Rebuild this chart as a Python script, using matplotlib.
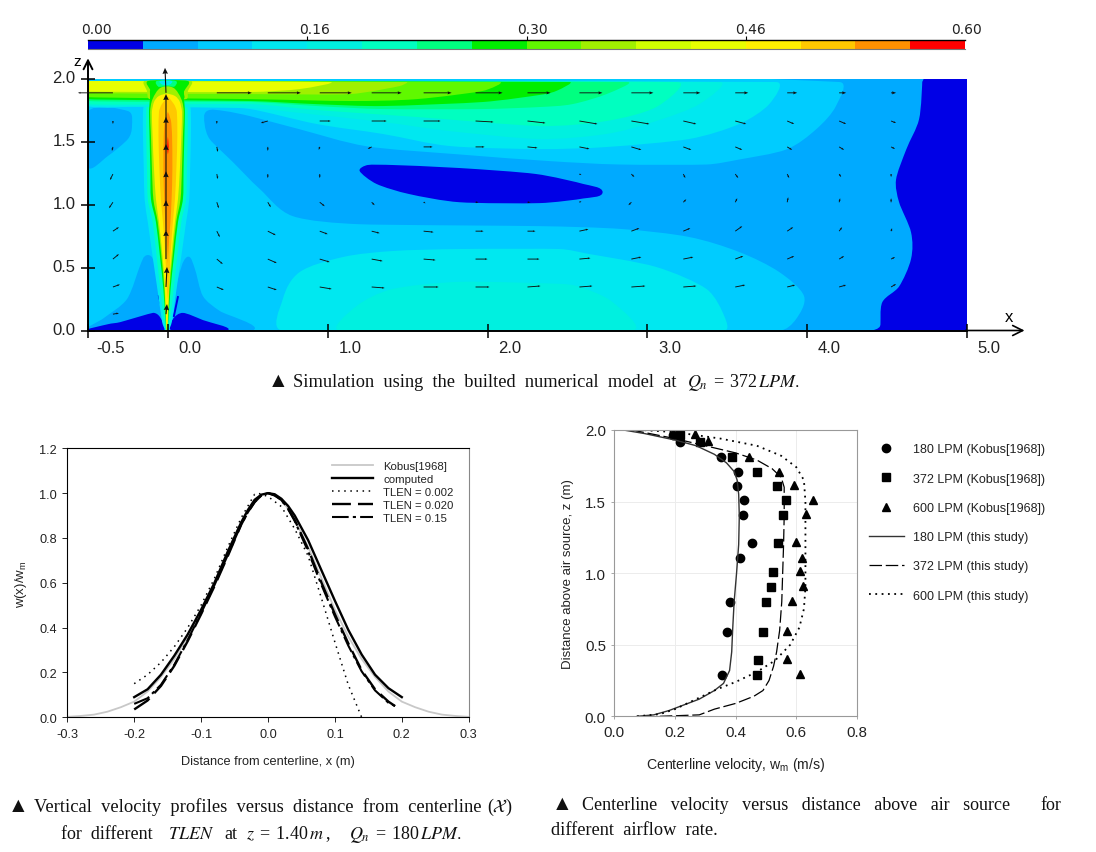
import numpy as np
import matplotlib
matplotlib.use("Agg")
import matplotlib.pyplot as plt
from matplotlib.colors import ListedColormap
from matplotlib.path import Path
from matplotlib.patches import PathPatch
from matplotlib.transforms import ScaledTranslation

W, H = 1096, 853
plt.rcParams.update({
    "font.family": ["Liberation Sans", "DejaVu Sans"],
    "mathtext.fontset": "stix",
    "mathtext.default": "regular",
})

# ---------------- top panel: speed levels ----------------
LEVEL_COLORS = ["#0000E6", "#00AAFF", "#00CCFF", "#00E8F0", "#00F0E0", "#00FFC0", "#00FF80", "#00EE00",
                "#60F800", "#A0F000", "#D0FF00", "#E8FF00", "#FFF000", "#FFC800", "#FF9000", "#FF0000"]
LEVEL_EDGES = [i * 0.0375 for i in range(17)]
CB_TICKS = [0.15, 0.30, 0.45]
CB_LABELS = ["0.00", "0.16", "0.30", "0.46", "0.60"]
CB_LABEL_POS = [0.006, 0.155, 0.304, 0.453, 0.6013]

# contour outlines (x, z in metres)
C1_OUT_X = [-0.5, 4.725, 4.72, 4.70, 4.62, 4.556, 4.575, 4.65, 4.65, 4.575, 4.47, 4.456, 4.39, -0.5]
C1_OUT_Z = [2, 2, 1.976, 1.68, 1.44, 1.20, 1.02, 0.78, 0.57, 0.35, 0.225, 0.035, 0, 0]
C2_X = [-0.5, 4.2, 4.18, 4.056, 3.87, 3.575, 3.37, 2.825, 2.39, 1.825, 1.244, 0.825, 0.5125, 0.356, 0.244, 0.23,
        0.2625, 0.406, 0.575, 0.78, 1.2, 2.325, 2.84, 3.26, 3.575, 3.825, 3.98, 3.93, 3.825, -0.5]
C2_Z = [1.984, 1.976, 1.785, 1.60, 1.44, 1.36, 1.32, 1.32, 1.347, 1.40, 1.465, 1.60, 1.705, 1.745, 1.745, 1.64,
        1.52, 1.34, 1.125, 0.91, 0.845, 0.83, 0.807, 0.744, 0.624, 0.465, 0.274, 0.09, 0, 0]
LOBE_X = [-0.5, -0.25, -0.225, -0.25, -0.375, -0.5]
LOBE_Z = [1.74, 1.745, 1.626, 1.523, 1.388, 1.30]
HUMP_L_X = [-0.5, -0.4, -0.256, -0.175, -0.125, -0.08, -0.0625, -0.0375, -0.019]
HUMP_L_Z = [0, 0.10, 0.25, 0.513, 0.60, 0.513, 0.33, 0.147, 0]
HUMP_R_X = [0.025, 0.031, 0.044, 0.0625, 0.119, 0.169, 0.219, 0.325, 0.53]
HUMP_R_Z = [0, 0.066, 0.25, 0.41, 0.584, 0.489, 0.274, 0.155, 0]
LOW_L_X = [-0.5, -0.375, -0.3, -0.094, -0.05, -0.031]
LOW_L_Z = [0, 0.05, 0.066, 0.14, 0.107, 0]
LOW_R_X = [0.025, 0.031, 0.094, 0.219, 0.37]
LOW_R_Z = [0, 0.09, 0.14, 0.083, 0]
STREAK_L_X, STREAK_L_Z = [-0.056, -0.025], [0.274, 0.115]
STREAK_R_X, STREAK_R_Z = [0.0625, 0.0375], [0.266, 0.115]
EYE_X = [1.2, 1.25, 1.406, 1.825, 2.3, 2.6, 2.72, 2.6, 2.325, 1.825, 1.51, 1.306]
EYE_Z = [1.268, 1.316, 1.316, 1.292, 1.245, 1.165, 1.10, 1.05, 1.013, 1.02, 1.085, 1.165]
LOW3_X = [0.719, 0.719, 0.825, 1.094, 1.406, 1.825, 2.45, 2.637, 3.056, 3.37, 3.481, 3.481]
LOW3_Z = [0, 0.25, 0.465, 0.584, 0.632, 0.648, 0.648, 0.608, 0.505, 0.33, 0.115, 0]
LOW4_X = [1.075, 1.181, 1.406, 1.825, 2.45, 2.575, 2.781, 2.906]
LOW4_Z = [0, 0.195, 0.33, 0.387, 0.371, 0.348, 0.227, 0]

BAND_3X = [-0.5, 3.806, 3.7625, 3.575, 3.2625, 2.744, 2.325, 1.7625, 1.344, 0.931, 0.5125, 0.2, -0.1125, -0.5]
BAND_3Z = [1.984, 1.976, 1.80, 1.642, 1.523, 1.459, 1.443, 1.467, 1.563, 1.642, 1.761, 1.777, 1.785, 1.785]
BAND_4X = [-0.5, 3.45, 3.325, 3.056, 2.744, 2.325, 1.7625, 1.344, 0.825, 0.5125, -0.5]
BAND_4Z = [1.984, 1.976, 1.80, 1.666, 1.563, 1.523, 1.586, 1.658, 1.73, 1.769, 1.79]
BAND_5X = [-0.5, 3.1875, 3.056, 2.744, 2.325, 1.556, 0.931, 0.5125, -0.5]
BAND_5Z = [1.984, 1.976, 1.777, 1.666, 1.626, 1.698, 1.753, 1.80, 1.80]
BAND_6X = [-0.5, 2.875, 2.744, 2.53, 2.325, 1.97, 1.344, 0.931, 0.5125, -0.5]
BAND_6Z = [1.984, 1.976, 1.88, 1.80, 1.777, 1.761, 1.761, 1.785, 1.817, 1.825]
BAND_7X = [-0.5, 2.5125, 2.43, 2.325, 1.97, 1.344, 0.931, 0.5125, -0.5]
BAND_7Z = [1.984, 1.976, 1.905, 1.873, 1.817, 1.785, 1.80, 1.825, 1.84]
BAND_8X = [-0.5, 2.075, 1.97, 1.556, 1.1375, 0.5125, -0.5]
BAND_8Z = [1.984, 1.976, 1.905, 1.84, 1.825, 1.84, 1.856]
BAND_9X = [-0.5, 1.494, 1.45, 1.1375, 0.5125, -0.5]
BAND_9Z = [1.984, 1.976, 1.944, 1.88, 1.88, 1.888]
BAND_11X = [-0.5, 1.0125, 0.825, 0.5125, -0.5]
BAND_11Z = [1.984, 1.976, 1.92, 1.896, 1.90]

CROWN_9X = [-0.144, 0.144, 0.125, 0.1125, -0.1125, -0.131]
CROWN_9Z = [1.984, 1.984, 1.905, 1.84, 1.84, 1.905]
CROWN_7X = [-0.125, 0.125, 0.10, 0.095, -0.095, -0.105]
CROWN_7Z = [1.984, 1.984, 1.90, 1.84, 1.84, 1.90]
CROWN_6X = [-0.07, 0.05, 0.03, -0.05]
CROWN_6Z = [1.984, 1.984, 1.93, 1.93]
CROWN_3X = [-0.05, 0.025, 0.01, -0.035]
CROWN_3Z = [1.984, 1.984, 1.955, 1.955]

JET_Z = [0, 0.066, 0.33, 0.592, 0.863, 1.045, 1.284, 1.547, 1.737, 1.84, 1.93]
JET_W3 = [.01, .03, .06, .09, .12, .14, .145, .15, .15, .14, .12]
JET_W5 = [.006, .018, .042, .065, .09, .12, .125, .13, .13, .125, .105]
JET_W7 = [.003, .008, .0225, .044, .069, .10, .104, .109, .1125, .106, .09]
JET_W9 = [.002, .006, .016, .035, .058, .085, .094, .10, .105, .09, .04]
JET12_Z = [0, 0.066, 0.33, 0.592, 0.863, 1.045, 1.284, 1.547, 1.737, 1.82, 1.865, 1.885]
JET_W12 = [.001, .005, .0125, .028, .05, .069, .081, .09, .094, .08, .05, 0]
JET13_Z = [0.25, 0.33, 0.592, 0.863, 1.045, 1.284, 1.547, 1.737, 1.80, 1.86]
JET_W13 = [0, .006, .016, .031, .044, .053, .059, .056, .038, 0]
JET14_Z = [0.53, 0.728, 0.863, 1.045, 1.284, 1.547, 1.67, 1.74]
JET_W14 = [0, .0075, .016, .023, .028, .026, .019, 0]
JET15_Z = [1.40, 1.46, 1.54]
JET_W15 = [0, .005, 0]

# velocity vectors
GRID_X = [0.306, 0.625, 0.95, 1.275, 1.6, 1.925, 2.25, 2.575, 2.9, 3.225, 3.55, 3.875, 4.2, 4.525]
GRID_Z = [1.666, 1.46, 1.244, 1.02, 0.79, 0.568, 0.346]
GRID_U = [
    [0, -7, 11, 15, 17, 18, 18, 18, 18, 13, 11, 7, 7, 5],
    [1, 0, -1, -4, 9, 9, 10, 10, 10, 8, 7, 5, 5, 4],
    [1, 0, 0, 0, 0, 0, 0, 2, 3, 2, 3, 2, 2, 0],
    [2, 3, 5, 3, 2, 3, 3, 2, -3, 3, 2, 1, 1, 0],
    [3, 8, 8, 8, 10, 8, 8, 9, 8, 7, 7, 6, 3, 1],
    [6, 9, 10, 11, 12, 12, 12, 11, 10, 10, 8, 7, 5, 4],
    [7, 9, 12, 13, 15, 14, 13, 13, 14, 13, 10, 8, 7, 5],
]
GRID_V = [
    [-3, -2, 0, 0, 0, -1, -2, -3, -3, -3, -3, -3, -3, -2],
    [-5, -4, -3, -2, 0, 0, -1, -2, -3, -3, -3, -3, -3, -2],
    [-5, -4, -4, 0, 0, 0, 0, -1, -3, -4, -4, -4, -3, -3],
    [-6, -5, -4, -3, -1, 0, 0, 1, -3, 3, 4, 5, 4, 4],
    [-6, -4, -3, -2, -1, 0, 0, 2, 3, 3, 5, 4, 4, 3],
    [-5, -4, -3, -2, -1, 0, 0, 1, 2, 2, 3, 3, 3, 2],
    [-3, -3, -2, -1, 0, 0, 1, 1, 1, 1, 2, 2, 2, 3],
]
TOP_ROW_Z = 1.89
TOP_ROW_U = [35, 33, 32, 30, 28, 27, 23, 23, 22, 17, 13, 10, 7, 5]
LEFT_COL_X = -0.344
LEFT_COL_Z = [1.666, 1.46, 1.244, 1.02, 0.79, 0.568, 0.346, 0.13]
LEFT_COL_U = [0, -1, -3, -4, 6, 6, 7, 6]
LEFT_COL_V = [-3, -4, -6, -6, 4, 5, 2.5, 1]
LEFT_TOP_U = -35
JET_COL_X = -0.012
JET_COL_Z = [0.13, 0.346, 0.568, 0.79, 1.02, 1.244, 1.46, 1.666, 1.89]
JET_COL_U = [1, 1, 0, 0, 0, 0, 0, 0, -1]
JET_COL_V = [10, 20, 29, 31, 31, 30, 30, 27, 25]

# ---------------- lower left panel ----------------
KOBUS_X = [-0.3, -0.28, -0.26, -0.24, -0.22, -0.2, -0.18, -0.16, -0.14, -0.12, -0.1, -0.08, -0.06, -0.04, -0.03, -0.02, -0.01, 0,
           0.01, 0.02, 0.03, 0.04, 0.06, 0.08, 0.1, 0.12, 0.14, 0.16, 0.18, 0.2, 0.22, 0.24, 0.26, 0.28, 0.3]
KOBUS_Y = [0.002, 0.006, 0.012, 0.025, 0.045, 0.07, 0.115, 0.18, 0.26, 0.36, 0.47, 0.60, 0.74, 0.87, 0.925, 0.97, 0.993, 1.0,
           0.993, 0.97, 0.93, 0.88, 0.76, 0.62, 0.48, 0.36, 0.26, 0.18, 0.115, 0.07, 0.045, 0.025, 0.012, 0.006, 0.002]
PROFILE_X = [-0.2, -0.18, -0.16, -0.14, -0.12, -0.1, -0.08, -0.06, -0.04, -0.03, -0.02, -0.01, 0,
             0.01, 0.02, 0.03, 0.04, 0.06, 0.08, 0.1, 0.12, 0.14, 0.16, 0.18, 0.2]
COMPUTED_Y = [.09, .125, .19, .275, .37, .48, .60, .74, .87, .925, .97, .993, 1.0, .995, .975, .943, .90, .79, .655, .52, .39, .28, .19, .13, .09]
TLEN002_X = [-0.2, -0.18, -0.16, -0.14, -0.12, -0.1, -0.08, -0.06, -0.04, -0.02, -0.015, 0, 0.02, 0.04, 0.06, 0.08, 0.1, 0.12, 0.14]
TLEN002_Y = [.15, .19, .245, .315, .40, .50, .62, .76, .89, .995, 1.0, .985, .94, .84, .72, .53, .335, .145, 0]
TLEN_X = [-0.2, -0.18, -0.16, -0.14, -0.12, -0.1, -0.08, -0.06, -0.04, -0.03, -0.02, -0.01, 0,
          0.01, 0.02, 0.03, 0.04, 0.06, 0.08, 0.1, 0.12, 0.14, 0.16, 0.18, 0.19]
TLEN020_Y = [.035, .075, .14, .23, .34, .46, .585, .72, .86, .915, .96, .99, 1.0, .99, .97, .93, .88, .75, .60, .46, .33, .21, .125, .07, .05]
TLEN15_Y = [.06, .085, .145, .235, .345, .465, .59, .725, .86, .915, .96, .99, 1.0, .99, .97, .93, .875, .74, .59, .45, .32, .205, .12, .065, .05]

# ---------------- lower right panel ----------------
OBS180_V = [.195, .216, .352, .409, .403, .426, .423, .455, .415, .383, .372, .355]
OBS180_Z = [1.967, 1.918, 1.81, 1.71, 1.61, 1.51, 1.406, 1.21, 1.104, .80, .59, .29]
OBS372_V = [.216, .282, .389, .471, .535, .566, .555, .54, .524, .516, .501, .489, .474, .471]
OBS372_Z = [1.967, 1.918, 1.81, 1.71, 1.61, 1.51, 1.406, 1.21, 1.01, .906, .80, .59, .396, .29]
OBS600_V = [.266, .309, .445, .543, .591, .654, .631, .60, .619, .612, .621, .587, .57, .568, .612]
OBS600_Z = [1.972, 1.923, 1.814, 1.71, 1.616, 1.513, 1.41, 1.215, 1.106, 1.013, .908, .803, .594, .40, .293]
SIM180_V = [.075, .13, .18, .23, .28, .33, .36, .38, .387, .39, .395, .403, .41, .412, .41, .405, .395, .37, .33, .27, .20, .10, .03]
SIM180_Z = [0, .01, .04, .08, .12, .18, .23, .32, .45, .6, .8, 1.0, 1.2, 1.4, 1.55, 1.65, 1.71, 1.77, 1.83, 1.89, 1.93, 1.975, 2.0]
SIM372_V = [.15, .28, .33, .40, .46, .49, .51, .525, .535, .545, .552, .555, .558, .56, .56, .56, .55, .52, .47, .40, .30, .20, .07]
SIM372_Z = [0, .01, .05, .09, .14, .18, .25, .35, .45, .6, .8, 1.0, 1.2, 1.4, 1.5, 1.6, 1.67, 1.73, 1.79, 1.84, 1.89, 1.94, 1.995]
SIM600_V = [.075, .15, .2, .27, .34, .40, .47, .53, .58, .61, .625, .63, .63, .63, .625, .60, .55, .47, .35, .2, .09]
SIM600_Z = [0, .015, .05, .12, .19, .24, .31, .39, .50, .62, .75, .9, 1.2, 1.5, 1.65, 1.74, 1.82, 1.89, 1.94, 1.985, 2.0]


def px_axes(fig, left, top, right, bottom):
    return fig.add_axes([left / W, 1 - bottom / H, (right - left) / W, (bottom - top) / H])


def smooth_path(xs, zs):
    p = np.column_stack([xs, zs]).astype(float)
    n = len(p)
    tang = np.zeros_like(p)
    for i in range(n):
        a, b, c = p[i - 1], p[i], p[(i + 1) % n]
        d = c - a
        nd = np.hypot(*d)
        if nd > 0:
            tang[i] = d / nd * min(np.hypot(*(b - a)), np.hypot(*(c - b))) / 3
    verts, codes = [p[0]], [Path.MOVETO]
    for i in range(n):
        j = (i + 1) % n
        verts += [p[i] + tang[i], p[j] - tang[j], p[j]]
        codes += [Path.CURVE4] * 3
    return Path(verts, codes)


fig = plt.figure(figsize=(W / 100, H / 100), dpi=100, facecolor="white")

# colour bar
cax = px_axes(fig, 88, 41, 965, 50)
cax.pcolormesh(LEVEL_EDGES, [0, 1], [list(range(16))], cmap=ListedColormap(LEVEL_COLORS), vmin=0, vmax=15)
cax.set_xlim(0, 0.6)
cax.set_yticks([])
cax.set_xticks(CB_TICKS)
cax.tick_params(axis="x", top=True, bottom=False, labelbottom=False, length=3, width=0.8, direction="out")
for s in cax.spines.values():
    s.set_visible(False)
cax.spines["top"].set_visible(True)
cax.spines["top"].set_linewidth(1.0)
cax.spines["bottom"].set_visible(True)
cax.spines["bottom"].set_color("#777777")
for pos, lab in zip(CB_LABEL_POS, CB_LABELS):
    cax.annotate(lab, (pos, 1), xytext=(0, 8), textcoords="offset points", ha="center", va="center",
                 fontsize=10, family="DejaVu Sans", color="#222222", annotation_clip=False)

# contour field
ax = px_axes(fig, 88, 80, 967, 331.5)
ax.set_xlim(-0.5, 4.994)
ax.set_ylim(0, 2.0)
ax.set_facecolor(LEVEL_COLORS[0])


def fill(level, xs, zs, z=1):
    ax.add_patch(PathPatch(smooth_path(xs, zs), fc=LEVEL_COLORS[level], ec="none", zorder=z))


def jet(level, zs, ws, centre=-0.006):
    zs, ws = np.asarray(zs), np.asarray(ws)
    xs = np.r_[centre - ws, (centre + ws)[::-1]]
    fill(level, xs, np.r_[zs, zs[::-1]])


fill(1, C1_OUT_X, C1_OUT_Z)
fill(2, C2_X, C2_Z)
fill(3, LOW3_X, LOW3_Z)
fill(4, LOW4_X, LOW4_Z)
fill(1, LOBE_X, LOBE_Z)
fill(1, HUMP_L_X, HUMP_L_Z)
fill(1, HUMP_R_X, HUMP_R_Z)
fill(0, LOW_L_X, LOW_L_Z)
fill(0, LOW_R_X, LOW_R_Z)
fill(0, EYE_X, EYE_Z)
ax.plot(STREAK_L_X, STREAK_L_Z, color=LEVEL_COLORS[0], lw=1.4, zorder=1)
ax.plot(STREAK_R_X, STREAK_R_Z, color=LEVEL_COLORS[0], lw=1.4, zorder=1)
jet(3, JET_Z, JET_W3)
jet(5, JET_Z, JET_W5)
for lev, bx, bz in [(3, BAND_3X, BAND_3Z), (4, BAND_4X, BAND_4Z), (5, BAND_5X, BAND_5Z), (6, BAND_6X, BAND_6Z),
                    (7, BAND_7X, BAND_7Z), (8, BAND_8X, BAND_8Z), (9, BAND_9X, BAND_9Z), (11, BAND_11X, BAND_11Z)]:
    fill(lev, bx, bz)
fill(9, CROWN_9X, CROWN_9Z)
fill(7, CROWN_7X, CROWN_7Z)
fill(6, CROWN_6X, CROWN_6Z)
fill(3, CROWN_3X, CROWN_3Z)
jet(7, JET_Z, JET_W7)
jet(9, JET_Z, JET_W9)
jet(12, JET12_Z, JET_W12)
jet(13, JET13_Z, JET_W13, 0.0)
jet(14, JET14_Z, JET_W14, 0.0)
jet(15, JET15_Z, JET_W15, 0.0)

gx, gz = np.meshgrid(GRID_X, GRID_Z)
qkw = dict(angles="uv", scale_units="dots", scale=1, units="dots", pivot="tail", zorder=3, color="#101010", clip_on=False)
small = dict(width=0.9, headwidth=2.2, headlength=3, headaxislength=2.6, minlength=0)
headed = dict(width=0.9, headwidth=3.4, headlength=4.5, headaxislength=4, minlength=0)
ax.quiver(gx, gz, np.array(GRID_U, float), np.array(GRID_V, float), **small, **qkw)
ax.quiver(GRID_X, [TOP_ROW_Z] * len(GRID_X), TOP_ROW_U, [0] * len(GRID_X), **headed, **qkw)
ax.quiver([LEFT_COL_X], [TOP_ROW_Z], [LEFT_TOP_U], [0], **small, **qkw)
ax.quiver([LEFT_COL_X] * len(LEFT_COL_Z), LEFT_COL_Z, LEFT_COL_U, LEFT_COL_V, **small, **qkw)
ax.quiver([JET_COL_X] * len(JET_COL_Z), JET_COL_Z, JET_COL_U, JET_COL_V, width=1.1, headwidth=5, headlength=5.5, headaxislength=5, minlength=0, **qkw)

ax.set_xticks([-0.5, 0, 1, 2, 3, 4, 5])
ax.set_xticklabels(["-0.5", "0.0", "1.0", "2.0", "3.0", "4.0", "5.0"], fontsize=12, color="#222222")
ax.set_yticks([0, 0.5, 1.0, 1.5, 2.0])
ax.set_yticklabels(["0.0", "0.5", "1.0", "1.5", "2.0"], fontsize=12, color="#222222")
ax.tick_params(axis="x", direction="inout", length=10, width=1.1, pad=2)
ax.tick_params(axis="y", direction="inout", length=10, width=1.1, pad=4)
for t in ax.get_xticklabels():
    t.set_transform(t.get_transform() + ScaledTranslation(16 / 72, 0, fig.dpi_scale_trans))
for t in ax.get_yticklabels():
    t.set_transform(t.get_transform() + ScaledTranslation(0, 2 / 72, fig.dpi_scale_trans))
for s in ("top", "right"):
    ax.spines[s].set_visible(False)
for s in ("left", "bottom"):
    ax.spines[s].set_linewidth(1.4)
ax.annotate("", xy=(5.36, 0), xytext=(4.99, 0), annotation_clip=False,
            arrowprops=dict(arrowstyle="->", lw=1.2, color="black", mutation_scale=18, shrinkA=0, shrinkB=0))
ax.annotate("", xy=(-0.5, 2.165), xytext=(-0.5, 1.99), annotation_clip=False,
            arrowprops=dict(arrowstyle="->", lw=1.4, color="black", mutation_scale=16, shrinkA=0, shrinkB=0))
ax.text(5.26, 0.115, "x", fontsize=12, ha="center", va="center", clip_on=False)
ax.text(-0.565, 2.14, "z", fontsize=11, ha="center", va="center", clip_on=False)

# lower left
a2 = px_axes(fig, 67.3, 449.3, 468.7, 718.3)
a2.plot(KOBUS_X, KOBUS_Y, color="#c8c8c8", lw=1.3, label="Kobus[1968]")
a2.plot(PROFILE_X, COMPUTED_Y, color="black", lw=1.7, label="computed")
a2.plot(TLEN002_X, TLEN002_Y, color="black", lw=1.1, ls=(0, (1, 3)), label="TLEN = 0.002")
a2.plot(TLEN_X, TLEN020_Y, color="black", lw=1.7, ls=(0, (8, 3)), label="TLEN = 0.020")
a2.plot(TLEN_X, TLEN15_Y, color="black", lw=1.5, ls=(0, (8, 2, 1.5, 2)), label="TLEN = 0.15")
a2.set_xlim(-0.3, 0.3)
a2.set_ylim(0, 1.2)
a2.set_xticks([-0.3, -0.2, -0.1, 0, 0.1, 0.2, 0.3])
a2.set_xticklabels(["-0.3", "-0.2", "-0.1", "0.0", "0.1", "0.2", "0.3"])
a2.set_yticks([0, 0.2, 0.4, 0.6, 0.8, 1.0, 1.2])
a2.set_yticklabels(["0.0", "0.2", "0.4", "0.6", "0.8", "1.0", "1.2"])
a2.tick_params(labelsize=9.2, length=3.5, width=0.7, pad=4, colors="#222222")
for s in a2.spines.values():
    s.set_linewidth(0.8)
a2.spines["right"].set_color("#888888")
a2.set_xlabel("Distance from centerline, x (m)", fontsize=9.2, color="#222222")
a2.xaxis.set_label_coords(0.5, -0.14)
a2.set_ylabel("w(x)/w$_{m}$", fontsize=9.5, color="#222222")
a2.yaxis.set_label_coords(-0.095, 0.5)
a2.legend(loc="upper left", bbox_to_anchor=(0.6288, 1.0), frameon=False, fontsize=8.2, handlelength=3.6,
          handletextpad=0.88, labelspacing=0.28, borderaxespad=0, borderpad=1.08, labelcolor="#222222")

# lower right
a3 = px_axes(fig, 614.3, 431, 857, 717.3)
a3.grid(True, color="#ececec", lw=0.7)
a3.set_axisbelow(True)
h1, = a3.plot(OBS180_V, OBS180_Z, "o", color="black", ms=6, ls="none", label="180 LPM (Kobus[1968])", clip_on=False)
h2, = a3.plot(OBS372_V, OBS372_Z, "s", color="black", ms=5.2, ls="none", label="372 LPM (Kobus[1968])", clip_on=False)
h3, = a3.plot(OBS600_V, OBS600_Z, "^", color="black", ms=5.8, ls="none", label="600 LPM (Kobus[1968])", clip_on=False)
h4, = a3.plot(SIM180_V, SIM180_Z, color="#333333", lw=1.0, label="180 LPM (this study)")
h5, = a3.plot(SIM372_V, SIM372_Z, color="black", lw=0.9, ls=(0, (10, 3)), label="372 LPM (this study)")
h6, = a3.plot(SIM600_V, SIM600_Z, color="black", lw=1.3, ls=(0, (1, 2.5)), label="600 LPM (this study)")
a3.set_xlim(0, 0.8)
a3.set_ylim(0, 2.0)
a3.set_xticks([0, 0.2, 0.4, 0.6, 0.8])
a3.set_xticklabels(["0.0", "0.2", "0.4", "0.6", "0.8"])
a3.set_yticks([0, 0.5, 1.0, 1.5, 2.0])
a3.set_yticklabels(["0.0", "0.5", "1.0", "1.5", "2.0"])
a3.tick_params(labelsize=10.8, length=2, width=0.6, color="#999999", labelcolor="#222222", pad=4)
for s in a3.spines.values():
    s.set_color("#999999")
    s.set_linewidth(0.8)
a3.set_xlabel("Centerline velocity, w$_{m}$ (m/s)", fontsize=10.2, color="#222222")
a3.xaxis.set_label_coords(0.5, -0.135)
a3.set_ylabel("Distance above air source, z (m)", fontsize=9.5, color="#222222")
a3.yaxis.set_label_coords(-0.165, 0.5)
a3.legend(handles=[h1, h2, h3, h4, h5, h6], loc="upper left", bbox_to_anchor=(1.033, 0.966), frameon=False, fontsize=9,
          handlelength=2.8, handletextpad=0.72, labelspacing=1.38, borderaxespad=0, borderpad=0.3, labelcolor="#222222")

# captions
SERIF = ["Liberation Serif", "DejaVu Sans"]
CAPTIONS = [
    (268, 383, "\u25b2", 15),
    (293, 383, "Simulation  using  the  builted  numerical  model  at", 13.2),
    (687, 383, r"$\mathit{Q_n}\;=\;372\,\mathit{LPM.}$", 13),
    (8, 807.5, "\u25b2", 15),
    (34, 807.5, "Vertical  velocity  profiles  versus  distance  from  centerline", 13.3),
    (487, 807.5, r"$(\mathcal{X})$", 13),
    (61, 834.5, "for  different", 13),
    (168, 834.5, r"$\mathit{TLEN}$", 13),
    (224, 834.5, "at", 13),
    (246, 834.5, r"$\mathit{z}\;=\;1.40\,\mathit{m}\;,$", 13),
    (349, 834.5, r"$\mathit{Q_n}\;=\;180\,\mathit{LPM.}$", 13),
    (552, 805.5, "\u25b2", 15),
    (582, 805.5, "Centerline   velocity   versus   distance   above   air   source", 13),
    (1040, 805.5, "for", 13),
    (551, 830.5, "different  airflow  rate.", 13.2),
]
for px, py, s, size in CAPTIONS:
    fig.text(px / W, 1 - py / H, s, fontsize=size, family=SERIF, ha="left", va="center", color="#111111")

fig.savefig("out.png", dpi=100, facecolor="white")
